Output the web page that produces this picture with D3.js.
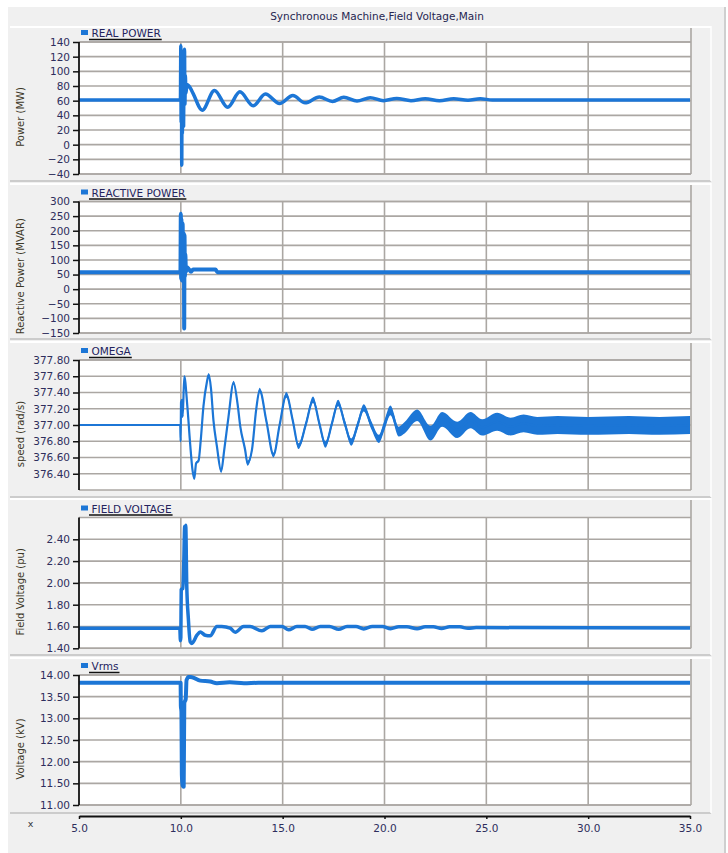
<!DOCTYPE html>
<html>
  <head>
    <meta charset="utf-8">
    <title>Synchronous Machine,Field Voltage,Main</title>
    <script src="https://d3js.org/d3.v7.min.js"></script>
    <style>
      body { margin: 0; background: #ffffff; }
      svg text { font-family: "DejaVu Sans", Verdana, sans-serif; }
    </style>
  </head>
  <body>
    <svg width="728" height="853" id="mainsvg"></svg>
    <script>
        // time axis
        const xTicks = [5, 10, 15, 20, 25, 30, 35];

        // REAL POWER (MW)
        const pTime = [5, 9.98, 10.0, 10.015, 10.03, 10.045, 10.06, 10.075, 10.09, 10.105, 10.12, 10.135, 10.15,
          10.18, 10.2, 10.22, 10.25, 10.3, 10.45, 10.6, 11.05, 11.65, 12.3, 12.9, 13.55, 14.15, 14.85, 15.5,
          16.1, 16.8, 17.45, 18.0, 18.65, 19.3, 19.95, 20.6, 21.3, 22.0, 22.7, 23.4, 24.1, 24.7, 25.3, 35];
        const realPower = [61, 61, 135, 30, 120, -28, 110, 15, 100, 40, 118, 25, 90,
          130, 55, 95, 70, 82, 78, 70, 47, 74, 51, 72, 53, 69, 56, 67,
          57, 65, 59, 64.5, 59.5, 64, 60, 63, 60, 62.5, 60, 62.5, 60.5, 62.5, 61, 61];
        const pTicks = [-40, -20, 0, 20, 40, 60, 80, 100, 120, 140];

        // REACTIVE POWER (MVAR)
        const qTime = [5, 9.98, 10.0, 10.015, 10.03, 10.045, 10.06, 10.075, 10.09, 10.105, 10.12, 10.135, 10.15,
          10.165, 10.18, 10.2, 10.22, 10.25, 10.3, 10.4, 10.5, 10.6, 11.7, 11.8, 35];
        const reactivePower = [58, 58, 258, 35, 240, 30, 210, 40, 225, 45, 180, 50, 190,
          -135, 185, 45, 120, 60, 75, 68, 60, 67, 67, 58, 58];
        const qTicks = [-150, -100, -50, 0, 50, 100, 150, 200, 250, 300];

        // OMEGA (rad/s), with the half height of its noise band
        const wTime = [5, 9.97, 9.99, 10.01, 10.06, 10.09, 10.17, 10.32, 10.46, 10.57, 10.66, 10.75, 10.87, 10.98,
          11.11, 11.28, 11.37, 11.48, 11.6, 11.77, 11.98, 12.13, 12.34, 12.59, 12.78, 12.92, 13.16, 13.27, 13.49,
          13.7, 13.87, 14.2, 14.55, 14.85, 15.18, 15.5, 15.78, 16.15, 16.49, 16.8, 17.1, 17.42, 17.72, 18.05,
          18.37, 18.68, 18.98, 19.35, 19.72, 20.0, 20.29, 20.7, 21.0, 21.6, 22.26, 22.83, 23.57, 24.22, 24.8,
          25.53, 26.19, 26.83, 27.5, 28.5, 30.0, 32.0, 33.5, 35];
        const omega = [377.00, 377.00, 376.80, 377.28, 377.31, 377.10, 377.60, 377.23, 376.76, 376.45, 376.34,
          376.53, 376.56, 376.82, 377.23, 377.53, 377.62, 377.45, 377.06, 376.74, 376.43, 376.69, 377.10, 377.52,
          377.27, 376.98, 376.69, 376.53, 376.69, 377.19, 377.43, 377.05, 376.63, 377.00, 377.37, 377.05, 376.74,
          377.02, 377.31, 377.02, 376.76, 377.02, 377.27, 377.02, 376.79, 377.00, 377.21, 377.00, 376.83, 377.00,
          377.18, 376.92, 376.97, 377.12, 376.90, 377.07, 376.94, 377.06, 376.97, 377.04, 376.98, 377.02, 376.99,
          377.00, 376.99, 377.00, 376.99, 377.00];
        const omegaNoise = [0.004, 0.004, 0.01, 0.01, 0.01, 0.01, 0.01, 0.015, 0.015, 0.015, 0.015, 0.015, 0.015,
          0.015, 0.02, 0.02, 0.02, 0.02, 0.02, 0.02, 0.02, 0.025, 0.025, 0.025, 0.025, 0.025, 0.03, 0.03, 0.03,
          0.03, 0.03, 0.03, 0.03, 0.03, 0.035, 0.035, 0.035, 0.04, 0.04, 0.04, 0.04, 0.04, 0.04, 0.045, 0.045,
          0.045, 0.045, 0.05, 0.05, 0.06, 0.06, 0.06, 0.07, 0.07, 0.09, 0.09, 0.1, 0.1, 0.1, 0.11, 0.11, 0.11,
          0.11, 0.11, 0.11, 0.11, 0.11, 0.11];
        const wTicks = [376.4, 376.6, 376.8, 377.0, 377.2, 377.4, 377.6, 377.8];

        // FIELD VOLTAGE (pu)
        const fTime = [5, 9.95, 9.98, 10.0, 10.02, 10.1, 10.14, 10.19, 10.22, 10.24, 10.29, 10.37, 10.46, 10.54,
          10.79, 10.95, 11.2, 11.44, 11.77, 12.01, 12.42, 12.67, 13.08, 13.4, 13.98, 14.39, 14.97, 15.29, 15.7,
          16.1, 16.44, 16.85, 17.3, 17.75, 18.16, 18.6, 18.98, 19.4, 19.9, 20.3, 20.7, 21.1, 21.6, 22.0, 22.4,
          22.8, 23.2, 23.7, 24.1, 24.5, 35];
        const fieldVoltage = [1.585, 1.585, 1.47, 1.50, 1.94, 1.95, 2.15, 2.52, 2.45, 2.53, 1.98, 1.67, 1.46, 1.445,
          1.52, 1.55, 1.52, 1.515, 1.60, 1.60, 1.585, 1.547, 1.60, 1.60, 1.56, 1.60, 1.60, 1.57, 1.60,
          1.60, 1.575, 1.60, 1.60, 1.575, 1.60, 1.60, 1.578, 1.60, 1.60, 1.58, 1.598, 1.598, 1.58, 1.597, 1.597,
          1.582, 1.597, 1.597, 1.583, 1.59, 1.587];
        const fTicks = [1.4, 1.6, 1.8, 2.0, 2.2, 2.4];

        // Vrms (kV)
        const vTime = [5, 9.99, 10.0, 10.03, 10.05, 10.09, 10.14, 10.17, 10.24, 10.28, 10.4, 10.6, 10.95, 11.44,
          11.77, 12.4, 13.1, 13.8, 35];
        const vrms = [13.82, 13.82, 13.3, 13.15, 11.7, 11.45, 11.42, 13.35, 13.45, 13.88, 13.96, 13.94, 13.87, 13.85,
          13.81, 13.83, 13.81, 13.82, 13.82];
        const vTicks = [11, 11.5, 12, 12.5, 13, 13.5, 14];

        const blue = '#1c76d6';
        const gridColor = '#aba7a3';
        const tickColor = '#2e2e5c';

        const svg = d3.select('#mainsvg');
        const xScale = d3.scaleLinear().domain([5, 35]).range([79, 690]);
        const plotLeft = 79, plotRight = 691;

        // window frame + title band
        svg.append('rect').attr('x', 8).attr('y', 7).attr('width', 718).attr('height', 846).attr('fill', '#f0f0f0');
        svg.append('line').attr('x1', 725).attr('x2', 725).attr('y1', 7).attr('y2', 853)
          .attr('stroke', '#c4c4c4').attr('stroke-width', 1.5);
        svg.append('text').text('Synchronous Machine,Field Voltage,Main')
          .attr('x', 377).attr('y', 20).attr('text-anchor', 'middle')
          .attr('font-size', '10.5px').attr('fill', '#262650');

        const panels = [
          {legend: 'REAL POWER', title: 'Power (MW)', t: pTime, v: realPower, domain: [-40, 140],
           ticks: pTicks, fmt: d3.format('d'), boxTop: 26, boxBottom: 181, top: 42, bottom: 174, sw: 3.5},
          {legend: 'REACTIVE POWER', title: 'Reactive Power (MVAR)', t: qTime, v: reactivePower, domain: [-150, 300],
           ticks: qTicks, fmt: d3.format('d'), boxTop: 183, boxBottom: 339, top: 201.5, bottom: 333, sw: 4},
          {legend: 'OMEGA', title: 'speed (rad/s)', t: wTime, v: omega, noise: omegaNoise, domain: [376.2, 377.8],
           ticks: wTicks, fmt: d3.format('.2f'), boxTop: 341, boxBottom: 497, top: 360, bottom: 490, sw: 2.2},
          {legend: 'FIELD VOLTAGE', title: 'Field Voltage (pu)', t: fTime, v: fieldVoltage, domain: [1.4, 2.6],
           ticks: fTicks, fmt: d3.format('.2f'), boxTop: 498, boxBottom: 655, top: 517.5, bottom: 648.3, sw: 3.5},
          {legend: 'Vrms', title: 'Voltage (kV)', t: vTime, v: vrms, domain: [11, 14],
           ticks: vTicks, fmt: d3.format('.2f'), boxTop: 657, boxBottom: 813, top: 675, bottom: 805, sw: 4}
        ];

        panels.forEach((p, i) => {
          const yScale = d3.scaleLinear().domain(p.domain).range([p.bottom, p.top]);
          const g = svg.append('g');

          // panel box with light top edge and dark bottom edge
          g.append('rect').attr('x', 10).attr('y', p.boxTop).attr('width', 701)
            .attr('height', p.boxBottom - p.boxTop).attr('fill', '#f0f0f0');
          g.append('line').attr('x1', 10).attr('x2', 711).attr('y1', p.boxTop + 1).attr('y2', p.boxTop + 1)
            .attr('stroke', '#ffffff').attr('stroke-width', 2);
          g.append('line').attr('x1', 10).attr('x2', 711).attr('y1', p.boxBottom).attr('y2', p.boxBottom)
            .attr('stroke', '#a8a8a8').attr('stroke-width', 1);
          g.append('line').attr('x1', 711).attr('x2', 711).attr('y1', p.boxTop).attr('y2', p.boxBottom)
            .attr('stroke', '#ffffff').attr('stroke-width', 1.5);

          // plot area
          g.append('rect').attr('x', plotLeft).attr('y', p.top).attr('width', plotRight - plotLeft)
            .attr('height', p.bottom - p.top).attr('fill', '#ffffff');

          // grid
          g.selectAll('.hgrid').data(p.ticks).join('line').attr('class', 'hgrid')
            .attr('x1', plotLeft).attr('x2', plotRight)
            .attr('y1', d => yScale(d)).attr('y2', d => yScale(d))
            .attr('stroke', gridColor).attr('stroke-width', 1.6);
          g.selectAll('.vgrid').data(xTicks.slice(1, -1)).join('line').attr('class', 'vgrid')
            .attr('x1', d => xScale(d)).attr('x2', d => xScale(d))
            .attr('y1', p.top).attr('y2', p.bottom)
            .attr('stroke', gridColor).attr('stroke-width', 1.6);
          // frame: top, bottom, right (right one runs up into the legend band)
          g.append('line').attr('x1', plotLeft).attr('x2', plotRight).attr('y1', p.top).attr('y2', p.top)
            .attr('stroke', gridColor).attr('stroke-width', 1.6);
          g.append('line').attr('x1', plotLeft).attr('x2', plotRight).attr('y1', p.bottom).attr('y2', p.bottom)
            .attr('stroke', gridColor).attr('stroke-width', 1.6);
          g.append('line').attr('x1', plotRight).attr('x2', plotRight).attr('y1', p.boxTop + 2).attr('y2', p.bottom)
            .attr('stroke', gridColor).attr('stroke-width', 1.6);

          // series
          const clipId = `clip${i}`;
          svg.append('clipPath').attr('id', clipId).append('rect')
            .attr('x', plotLeft).attr('y', p.top).attr('width', plotRight - plotLeft).attr('height', p.bottom - p.top);
          const pts = p.t.map((t, k) => ({t: t, v: p.v[k], n: p.noise ? p.noise[k] : 0}));
          const series = g.append('g').attr('clip-path', `url(#${clipId})`);
          if (p.noise) {
            const band = d3.area().curve(d3.curveMonotoneX)
              .x(d => xScale(d.t)).y0(d => yScale(d.v - d.n)).y1(d => yScale(d.v + d.n));
            series.append('path').datum(pts).attr('d', band).attr('fill', blue);
          }
          const line = d3.line().curve(d3.curveMonotoneX).x(d => xScale(d.t)).y(d => yScale(d.v));
          series.append('path').datum(pts).attr('d', line)
            .attr('fill', 'none').attr('stroke', blue).attr('stroke-width', p.sw).attr('stroke-linejoin', 'round');

          // y axis
          const yAxis = d3.axisLeft(yScale).tickValues(p.ticks).tickFormat(p.fmt)
            .tickSizeInner(6).tickSizeOuter(0).tickPadding(3);
          const ax = g.append('g').attr('transform', `translate(${plotLeft}, 0)`).call(yAxis);
          ax.select('.domain').attr('stroke', '#111').attr('stroke-width', 1.8)
            .attr('d', `M0,${p.top}V${p.bottom}`);
          ax.selectAll('.tick line').attr('stroke', '#111').attr('stroke-width', 1.5);
          ax.selectAll('.tick text').attr('font-size', '10.5px').attr('fill', tickColor)
            .attr('font-family', '"DejaVu Sans", Verdana, sans-serif');

          // axis title
          g.append('text').text(p.title)
            .attr('transform', `translate(23.5, ${(p.top + p.bottom) / 2 + 9}) rotate(-90)`)
            .attr('text-anchor', 'middle').attr('font-size', '10px').attr('fill', '#3d3828');

          // legend
          g.append('rect').attr('x', 81).attr('y', p.top - 12).attr('width', 7).attr('height', 5).attr('fill', blue);
          const lt = g.append('text').text(p.legend).attr('x', 91.5).attr('y', p.top - 5)
            .attr('font-size', '10.5px').attr('fill', '#23235e');
          const w = lt.node().getComputedTextLength();
          g.append('line').attr('x1', 89).attr('x2', 91.5 + w + 1)
            .attr('y1', p.top - 2.5).attr('y2', p.top - 2.5).attr('stroke', '#111').attr('stroke-width', 1.5);
        });

        // shared time axis
        const xAxis = d3.axisBottom(xScale).tickValues(xTicks).tickFormat(d3.format('.1f'))
          .tickSizeInner(3).tickSizeOuter(0).tickPadding(6);
        const xg = svg.append('g').attr('transform', `translate(0, 816)`).call(xAxis);
        xg.select('.domain').attr('stroke', '#111').attr('stroke-width', 1.8);
        xg.selectAll('.tick line').attr('stroke', '#111').attr('stroke-width', 1.5);
        xg.selectAll('.tick text').attr('font-size', '10.5px').attr('fill', tickColor)
          .attr('font-family', '"DejaVu Sans", Verdana, sans-serif');
        svg.append('text').text('x').attr('x', 30.5).attr('y', 826.5).attr('text-anchor', 'middle')
          .attr('font-size', '9.5px').attr('fill', '#33333a');
    </script>
  </body>
</html>
